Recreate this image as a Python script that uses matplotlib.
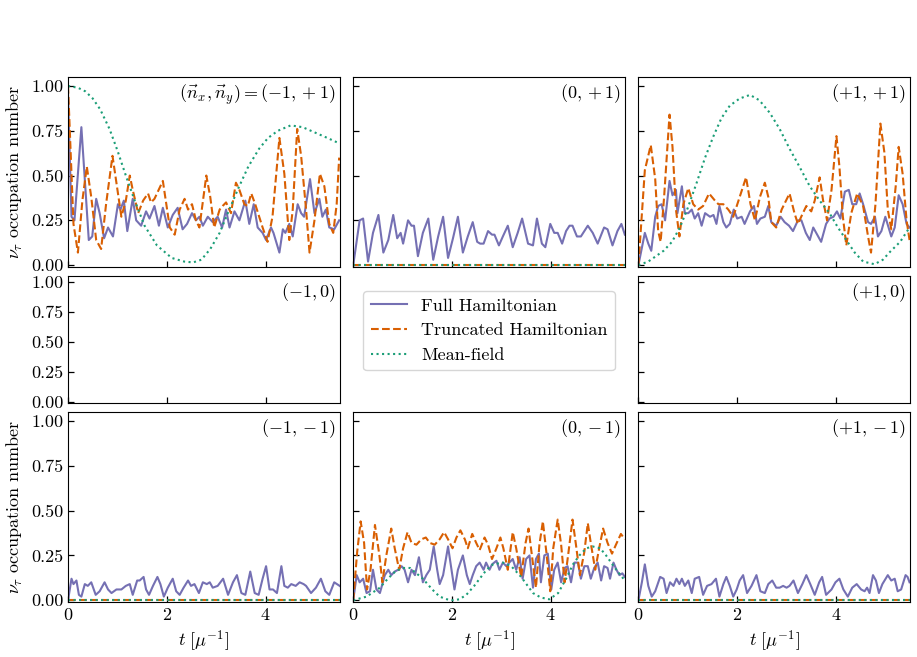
import matplotlib.pyplot as plt
from matplotlib.gridspec import GridSpec

plt.rcParams['font.family'] = 'serif'
plt.rcParams['font.serif'] = ['cmr10']
plt.rcParams['mathtext.fontset'] = 'cm'
plt.rcParams['axes.formatter.use_mathtext'] = True
plt.rcParams['font.size'] = 13

C_FULL = '#7570b3'
C_TRUNC = '#d95f02'
C_MF = '#1b9e77'

# ---- data ----
t_zero = [0.0, 5.5]
v_zero = [0.0, 0.0]

# (-1, +1)
t_full_m1p1 = [0.0, 0.07, 0.13, 0.27, 0.42, 0.49, 0.57, 0.64, 0.73, 0.81, 0.91, 1.01, 1.06, 1.13, 1.20,
               1.31, 1.38, 1.48, 1.58, 1.65, 1.75, 1.84, 1.92, 2.02, 2.12, 2.22, 2.32, 2.41, 2.51, 2.59,
               2.66, 2.73, 2.83, 2.93, 3.03, 3.12, 3.20, 3.27, 3.37, 3.47, 3.59, 3.67, 3.76, 3.84, 3.94,
               4.01, 4.11, 4.16, 4.28, 4.35, 4.40, 4.48, 4.55, 4.65, 4.72, 4.78, 4.90, 4.99, 5.09, 5.15,
               5.22, 5.29, 5.39, 5.49]
v_full_m1p1 = [0.95, 0.27, 0.25, 0.77, 0.14, 0.16, 0.37, 0.29, 0.15, 0.21, 0.16, 0.34, 0.31, 0.36, 0.19,
               0.37, 0.25, 0.22, 0.30, 0.26, 0.33, 0.22, 0.32, 0.21, 0.28, 0.32, 0.20, 0.23, 0.29, 0.25,
               0.27, 0.22, 0.27, 0.24, 0.27, 0.21, 0.31, 0.21, 0.30, 0.25, 0.36, 0.23, 0.34, 0.21, 0.18,
               0.14, 0.21, 0.18, 0.07, 0.20, 0.18, 0.23, 0.16, 0.34, 0.29, 0.27, 0.48, 0.29, 0.37, 0.27,
               0.31, 0.21, 0.20, 0.25]
t_trunc_m1p1 = [0.0, 0.11, 0.20, 0.29, 0.38, 0.47, 0.57, 0.67, 0.77, 0.90, 0.99, 1.08, 1.17, 1.25, 1.31,
                1.42, 1.52, 1.62, 1.68, 1.75, 1.92, 2.06, 2.16, 2.26, 2.36, 2.43, 2.51, 2.59, 2.66, 2.80,
                2.88, 2.96, 3.07, 3.13, 3.20, 3.30, 3.40, 3.47, 3.57, 3.64, 3.71, 3.79, 3.94, 4.04, 4.14,
                4.28, 4.38, 4.48, 4.55, 4.64, 4.72, 4.82, 4.89, 4.99, 5.10, 5.19, 5.29, 5.37, 5.44, 5.49]
v_trunc_m1p1 = [1.00, 0.23, 0.07, 0.36, 0.55, 0.38, 0.14, 0.09, 0.34, 0.61, 0.44, 0.27, 0.36, 0.50, 0.42,
                0.29, 0.36, 0.40, 0.35, 0.37, 0.47, 0.21, 0.17, 0.31, 0.37, 0.31, 0.34, 0.25, 0.21, 0.50,
                0.38, 0.21, 0.31, 0.33, 0.35, 0.29, 0.46, 0.42, 0.34, 0.33, 0.40, 0.34, 0.21, 0.13, 0.27,
                0.71, 0.51, 0.14, 0.31, 0.76, 0.61, 0.31, 0.07, 0.25, 0.51, 0.44, 0.23, 0.18, 0.34, 0.60]
t_mf_m1p1 = [0.0, 0.2, 0.35, 0.5, 0.65, 0.84, 1.0, 1.17, 1.35, 1.55, 1.8, 2.1, 2.35, 2.53, 2.7, 2.88,
             3.07, 3.25, 3.45, 3.65, 3.87, 4.05, 4.25, 4.51, 4.75, 5.0, 5.25, 5.49]
v_mf_m1p1 = [1.00, 0.99, 0.97, 0.93, 0.87, 0.76, 0.64, 0.50, 0.36, 0.22, 0.11, 0.04, 0.02, 0.015, 0.03,
             0.09, 0.18, 0.30, 0.43, 0.55, 0.65, 0.71, 0.75, 0.78, 0.77, 0.74, 0.71, 0.68]

# (0, +1)
t_full_0p1 = [0.0, 0.13, 0.20, 0.30, 0.40, 0.51, 0.61, 0.71, 0.81, 0.89, 0.96, 1.01, 1.11, 1.18, 1.23,
              1.31, 1.41, 1.52, 1.62, 1.72, 1.82, 1.92, 2.02, 2.12, 2.22, 2.32, 2.42, 2.51, 2.57, 2.64,
              2.73, 2.81, 2.86, 2.95, 3.03, 3.13, 3.23, 3.33, 3.42, 3.54, 3.64, 3.72, 3.82, 3.89, 3.99,
              4.07, 4.14, 4.23, 4.31, 4.38, 4.44, 4.53, 4.61, 4.75, 4.85, 4.95, 5.08, 5.15, 5.25, 5.35,
              5.43, 5.50]
v_full_0p1 = [0.0, 0.25, 0.26, 0.02, 0.18, 0.28, 0.07, 0.14, 0.28, 0.15, 0.18, 0.12, 0.25, 0.22, 0.22,
              0.05, 0.18, 0.26, 0.03, 0.16, 0.27, 0.04, 0.15, 0.27, 0.07, 0.16, 0.24, 0.13, 0.12, 0.12,
              0.19, 0.17, 0.17, 0.11, 0.16, 0.22, 0.10, 0.18, 0.26, 0.12, 0.11, 0.26, 0.12, 0.10, 0.23,
              0.18, 0.18, 0.12, 0.19, 0.22, 0.22, 0.16, 0.16, 0.22, 0.18, 0.12, 0.21, 0.20, 0.11, 0.19,
              0.23, 0.17]

# (+1, +1)
t_full_p1p1 = [0.0, 0.13, 0.20, 0.26, 0.34, 0.40, 0.47, 0.54, 0.63, 0.69, 0.76, 0.79, 0.88, 0.94, 1.01,
               1.08, 1.14, 1.21, 1.28, 1.35, 1.45, 1.52, 1.58, 1.64, 1.72, 1.78, 1.85, 1.93, 2.00, 2.09,
               2.15, 2.26, 2.34, 2.40, 2.47, 2.56, 2.63, 2.69, 2.79, 2.88, 2.96, 3.05, 3.13, 3.23, 3.30,
               3.39, 3.47, 3.54, 3.60, 3.70, 3.80, 3.87, 3.95, 4.02, 4.09, 4.18, 4.26, 4.33, 4.41, 4.48,
               4.55, 4.65, 4.71, 4.79, 4.85, 4.92, 5.00, 5.12, 5.19, 5.27, 5.35, 5.43, 5.49]
v_full_p1p1 = [0.0, 0.18, 0.12, 0.08, 0.27, 0.33, 0.34, 0.25, 0.47, 0.39, 0.42, 0.29, 0.44, 0.29, 0.29,
               0.31, 0.26, 0.29, 0.22, 0.29, 0.27, 0.28, 0.23, 0.33, 0.24, 0.21, 0.23, 0.31, 0.26, 0.27,
               0.23, 0.30, 0.33, 0.23, 0.26, 0.27, 0.33, 0.24, 0.22, 0.27, 0.24, 0.22, 0.19, 0.25, 0.25,
               0.18, 0.14, 0.21, 0.18, 0.13, 0.23, 0.26, 0.27, 0.30, 0.26, 0.41, 0.42, 0.34, 0.34, 0.40,
               0.34, 0.24, 0.23, 0.27, 0.16, 0.19, 0.27, 0.16, 0.21, 0.39, 0.34, 0.23, 0.21]
t_trunc_p1p1 = [0.0, 0.13, 0.25, 0.34, 0.40, 0.45, 0.52, 0.63, 0.69, 0.76, 0.83, 0.91, 1.01, 1.11, 1.21,
                1.31, 1.43, 1.55, 1.62, 1.72, 1.82, 1.92, 2.05, 2.18, 2.27, 2.36, 2.46, 2.56, 2.63, 2.69,
                2.79, 2.90, 3.06, 3.16, 3.23, 3.33, 3.40, 3.50, 3.57, 3.67, 3.74, 3.82, 3.91, 4.01, 4.07,
                4.14, 4.21, 4.31, 4.43, 4.55, 4.65, 4.71, 4.80, 4.90, 4.98, 5.05, 5.12, 5.21, 5.27, 5.35,
                5.43, 5.49]
v_trunc_p1p1 = [0.0, 0.53, 0.67, 0.48, 0.19, 0.13, 0.38, 0.84, 0.66, 0.31, 0.16, 0.34, 0.43, 0.34, 0.31,
                0.33, 0.40, 0.36, 0.34, 0.34, 0.31, 0.27, 0.38, 0.49, 0.34, 0.25, 0.38, 0.46, 0.38, 0.24,
                0.21, 0.31, 0.40, 0.29, 0.23, 0.29, 0.33, 0.30, 0.36, 0.49, 0.36, 0.25, 0.42, 0.72, 0.55,
                0.27, 0.11, 0.29, 0.40, 0.33, 0.16, 0.07, 0.34, 0.79, 0.63, 0.31, 0.20, 0.44, 0.66, 0.51,
                0.25, 0.14]
t_mf_p1p1 = [0.0, 0.20, 0.51, 0.68, 0.84, 1.00, 1.18, 1.35, 1.52, 1.68, 1.85, 2.05, 2.26, 2.45, 2.66,
             2.86, 3.06, 3.26, 3.47, 3.67, 3.87, 4.04, 4.21, 4.38, 4.55, 4.78, 4.95, 5.08, 5.30, 5.49]
v_mf_p1p1 = [0.0, 0.02, 0.08, 0.13, 0.21, 0.32, 0.46, 0.60, 0.72, 0.82, 0.89, 0.93, 0.95, 0.92, 0.85,
             0.76, 0.65, 0.55, 0.44, 0.36, 0.29, 0.21, 0.14, 0.07, 0.02, 0.005, 0.03, 0.07, 0.13, 0.21]

# (-1, -1)
t_full_m1m1 = [0.0, 0.07, 0.11, 0.17, 0.22, 0.27, 0.34, 0.40, 0.47, 0.56, 0.64, 0.74, 0.81, 0.88, 0.98,
               1.08, 1.17, 1.25, 1.31, 1.40, 1.45, 1.53, 1.58, 1.64, 1.72, 1.81, 1.87, 1.94, 2.02, 2.12,
               2.19, 2.26, 2.34, 2.43, 2.49, 2.56, 2.65, 2.73, 2.81, 2.87, 2.93, 3.03, 3.14, 3.24, 3.34,
               3.42, 3.51, 3.59, 3.69, 3.78, 3.86, 3.94, 4.01, 4.08, 4.15, 4.23, 4.32, 4.38, 4.45, 4.52,
               4.61, 4.69, 4.77, 4.82, 4.92, 5.02, 5.12, 5.21, 5.29, 5.39, 5.50]
v_full_m1m1 = [0.0, 0.12, 0.09, 0.11, 0.03, 0.02, 0.09, 0.08, 0.10, 0.03, 0.05, 0.10, 0.06, 0.04, 0.06,
               0.06, 0.08, 0.09, 0.03, 0.11, 0.11, 0.13, 0.06, 0.03, 0.08, 0.13, 0.09, 0.02, 0.07, 0.12,
               0.05, 0.03, 0.07, 0.11, 0.08, 0.09, 0.04, 0.10, 0.09, 0.10, 0.07, 0.08, 0.12, 0.03, 0.10,
               0.14, 0.04, 0.03, 0.16, 0.04, 0.03, 0.12, 0.19, 0.06, 0.06, 0.04, 0.19, 0.08, 0.07, 0.09,
               0.08, 0.10, 0.09, 0.08, 0.04, 0.07, 0.12, 0.05, 0.03, 0.10, 0.08]

# (0, -1)
t_full_0m1 = [0.0, 0.07, 0.13, 0.20, 0.27, 0.34, 0.40, 0.47, 0.54, 0.64, 0.71, 0.77, 0.84, 0.91, 0.98,
              1.04, 1.11, 1.18, 1.25, 1.33, 1.41, 1.48, 1.55, 1.63, 1.70, 1.75, 1.82, 1.92, 1.99, 2.05,
              2.12, 2.22, 2.30, 2.36, 2.42, 2.49, 2.56, 2.64, 2.69, 2.76, 2.81, 2.90, 2.96, 3.03, 3.10,
              3.16, 3.23, 3.30, 3.37, 3.43, 3.50, 3.57, 3.64, 3.70, 3.76, 3.80, 3.87, 3.94, 4.01, 4.07,
              4.14, 4.21, 4.28, 4.34, 4.41, 4.48, 4.55, 4.61, 4.68, 4.75, 4.81, 4.88, 4.95, 5.02, 5.08,
              5.15, 5.20, 5.27, 5.33, 5.39, 5.45, 5.50]
v_full_0m1 = [0.0, 0.14, 0.10, 0.12, 0.04, 0.05, 0.17, 0.06, 0.04, 0.14, 0.17, 0.14, 0.16, 0.17, 0.19,
              0.17, 0.10, 0.17, 0.14, 0.24, 0.10, 0.14, 0.17, 0.30, 0.17, 0.09, 0.14, 0.30, 0.17, 0.06,
              0.17, 0.25, 0.14, 0.09, 0.14, 0.19, 0.21, 0.17, 0.21, 0.17, 0.20, 0.22, 0.17, 0.21, 0.19,
              0.21, 0.23, 0.17, 0.24, 0.12, 0.23, 0.25, 0.07, 0.23, 0.26, 0.10, 0.25, 0.26, 0.06, 0.17,
              0.21, 0.10, 0.18, 0.19, 0.10, 0.21, 0.21, 0.12, 0.19, 0.19, 0.12, 0.18, 0.21, 0.11, 0.19,
              0.18, 0.12, 0.21, 0.17, 0.14, 0.15, 0.13]
t_trunc_0m1 = [0.0, 0.08, 0.15, 0.22, 0.28, 0.35, 0.44, 0.53, 0.59, 0.67, 0.77, 0.84, 0.93, 1.01, 1.10,
               1.18, 1.28, 1.38, 1.47, 1.55, 1.65, 1.75, 1.84, 1.92, 2.01, 2.09, 2.17, 2.26, 2.32, 2.41,
               2.49, 2.56, 2.66, 2.73, 2.81, 2.90, 2.98, 3.04, 3.13, 3.23, 3.30, 3.40, 3.49, 3.55, 3.60,
               3.70, 3.77, 3.84, 3.91, 3.99, 4.05, 4.14, 4.21, 4.28, 4.36, 4.44, 4.51, 4.59, 4.68, 4.75,
               4.81, 4.90, 4.98, 5.06, 5.15, 5.24, 5.32, 5.42, 5.50]
v_trunc_0m1 = [0.0, 0.27, 0.44, 0.32, 0.06, 0.17, 0.42, 0.25, 0.10, 0.25, 0.40, 0.29, 0.17, 0.29, 0.38,
               0.32, 0.31, 0.34, 0.35, 0.32, 0.31, 0.34, 0.38, 0.34, 0.29, 0.35, 0.39, 0.34, 0.29, 0.37,
               0.32, 0.28, 0.35, 0.31, 0.23, 0.29, 0.35, 0.29, 0.17, 0.38, 0.29, 0.13, 0.32, 0.40, 0.29,
               0.07, 0.31, 0.44, 0.27, 0.05, 0.29, 0.45, 0.31, 0.10, 0.27, 0.45, 0.31, 0.14, 0.27, 0.43,
               0.32, 0.17, 0.29, 0.40, 0.32, 0.26, 0.31, 0.37, 0.34]
t_mf_0m1 = [0.0, 0.27, 0.54, 0.70, 0.85, 1.0, 1.15, 1.41, 1.6, 1.75, 1.9, 2.02, 2.15, 2.29, 2.45, 2.56,
            2.7, 2.83, 3.03, 3.2, 3.4, 3.64, 3.8, 3.97, 4.15, 4.31, 4.45, 4.58, 4.72, 4.85, 5.0, 5.12,
            5.3, 5.50]
v_mf_0m1 = [0.0, 0.02, 0.07, 0.12, 0.16, 0.18, 0.18, 0.12, 0.06, 0.02, 0.005, 0.0, 0.005, 0.03, 0.08,
            0.12, 0.17, 0.20, 0.21, 0.19, 0.13, 0.04, 0.015, 0.005, 0.04, 0.12, 0.20, 0.25, 0.29, 0.30,
            0.29, 0.25, 0.18, 0.11]

# (+1, -1)
t_full_p1m1 = [0.0, 0.07, 0.13, 0.20, 0.27, 0.34, 0.44, 0.51, 0.57, 0.64, 0.71, 0.77, 0.83, 0.88, 0.94,
               1.01, 1.08, 1.14, 1.23, 1.31, 1.39, 1.48, 1.57, 1.64, 1.72, 1.78, 1.85, 1.92, 1.99, 2.05,
               2.12, 2.20, 2.29, 2.39, 2.47, 2.56, 2.63, 2.71, 2.79, 2.86, 2.93, 3.00, 3.06, 3.14, 3.23,
               3.32, 3.40, 3.48, 3.57, 3.66, 3.72, 3.80, 3.91, 3.99, 4.07, 4.15, 4.24, 4.33, 4.42, 4.51,
               4.58, 4.63, 4.68, 4.75, 4.81, 4.87, 4.94, 5.05, 5.12, 5.19, 5.25, 5.32, 5.41, 5.45, 5.49]
v_full_p1m1 = [0.0, 0.10, 0.20, 0.08, 0.02, 0.05, 0.13, 0.12, 0.04, 0.10, 0.08, 0.12, 0.09, 0.12, 0.08,
               0.11, 0.04, 0.12, 0.13, 0.03, 0.08, 0.09, 0.12, 0.02, 0.09, 0.13, 0.08, 0.02, 0.06, 0.11,
               0.14, 0.04, 0.08, 0.14, 0.05, 0.04, 0.09, 0.11, 0.07, 0.07, 0.08, 0.07, 0.08, 0.11, 0.04,
               0.09, 0.14, 0.09, 0.03, 0.10, 0.13, 0.03, 0.06, 0.10, 0.12, 0.06, 0.02, 0.07, 0.09, 0.06,
               0.05, 0.07, 0.04, 0.14, 0.11, 0.04, 0.09, 0.14, 0.11, 0.12, 0.05, 0.06, 0.14, 0.13, 0.10]

# grid of panels: (row, col) -> label, full, truncated, mean-field
panels = {
    (0, 0): (r'$(\vec{n}_x, \vec{n}_y) =$$(-1, +1)$', (t_full_m1p1, v_full_m1p1),
             (t_trunc_m1p1, v_trunc_m1p1), (t_mf_m1p1, v_mf_m1p1)),
    (0, 1): (r'$(0, +1)$', (t_full_0p1, v_full_0p1), (t_zero, v_zero), (t_zero, v_zero)),
    (0, 2): (r'$(+1, +1)$', (t_full_p1p1, v_full_p1p1),
             (t_trunc_p1p1, v_trunc_p1p1), (t_mf_p1p1, v_mf_p1p1)),
    (1, 0): (r'$(-1, 0)$', None, None, None),
    (1, 2): (r'$(+1, 0)$', None, None, None),
    (2, 0): (r'$(-1, -1)$', (t_full_m1m1, v_full_m1m1), (t_zero, v_zero), (t_zero, v_zero)),
    (2, 1): (r'$(0, -1)$', (t_full_0m1, v_full_0m1),
             (t_trunc_0m1, v_trunc_0m1), (t_mf_0m1, v_mf_0m1)),
    (2, 2): (r'$(+1, -1)$', (t_full_p1m1, v_full_p1m1), (t_zero, v_zero), (t_zero, v_zero)),
}

fig = plt.figure(figsize=(9.17, 6.57), dpi=100)
gs = GridSpec(3, 3, figure=fig, height_ratios=[1.5, 1, 1.5],
              left=0.0742, right=0.9924, top=0.8828, bottom=0.0837,
              wspace=0.05, hspace=0.055)

for (r, c), (label, full, trunc, mf) in panels.items():
    ax = fig.add_subplot(gs[r, c])
    if full is not None:
        ax.plot(*full, color=C_FULL, lw=1.5, label='Full Hamiltonian')
        ax.plot(*trunc, color=C_TRUNC, lw=1.5, ls='--', label='Truncated Hamiltonian')
        ax.plot(*mf, color=C_MF, lw=1.5, ls=':', label='Mean-field')
    ax.set_xlim(0, 5.5)
    ax.set_ylim(-0.01, 1.05)
    ax.set_xticks([0, 2, 4])
    ax.set_yticks([0, 0.25, 0.5, 0.75, 1.0])
    ax.tick_params(direction='in', length=4, width=0.9)
    ax.annotate(label, xy=(1, 1), xycoords='axes fraction', xytext=(-3, -4),
                textcoords='offset points', ha='right', va='top')
    if c != 0:
        ax.tick_params(labelleft=False)
    else:
        ax.yaxis.set_major_formatter(plt.FuncFormatter(lambda v, p: f'{v:.2f}'))
    if r != 2:
        ax.tick_params(labelbottom=False)
    else:
        ax.set_xlabel(r'$t\ [\mu^{-1}]$')
    if c == 0 and r != 1:
        ax.set_ylabel(r'$\nu_\tau$ occupation number', labelpad=4)
    if (r, c) == (0, 0):
        handles, labels = ax.get_legend_handles_labels()

# centre panel holds only the legend
lax = fig.add_subplot(gs[1, 1])
lax.axis('off')
lax.legend(handles, labels, loc='center', bbox_to_anchor=(0.5, 0.57), fontsize=13)

plt.savefig('out.png', dpi=100)
